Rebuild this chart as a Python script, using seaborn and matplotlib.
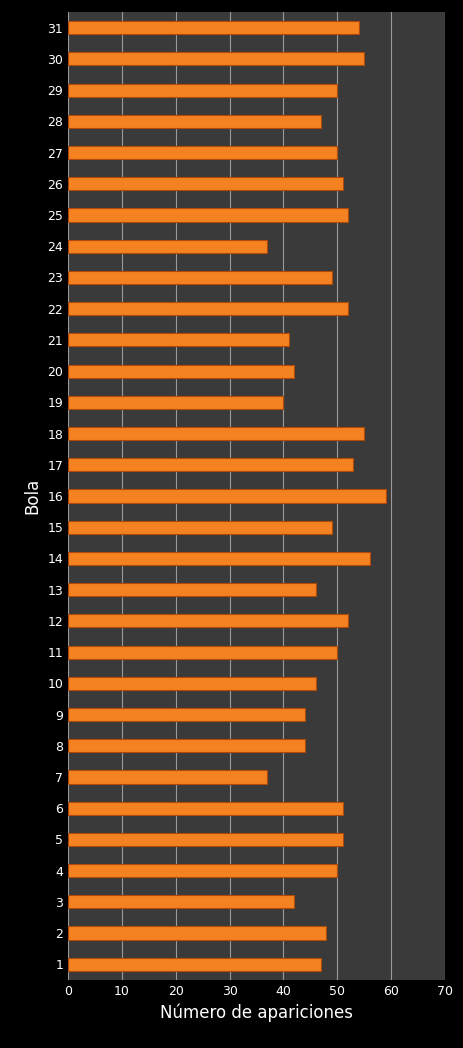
import matplotlib
matplotlib.use("Agg")
import matplotlib.pyplot as plt
import seaborn as sns
import pandas as pd

bolas = [str(i) for i in range(1, 32)]
apariciones = [47, 48, 42, 50, 51, 51, 37, 44, 44, 46, 50, 52, 46, 56, 49, 59,
               53, 55, 40, 42, 41, 52, 49, 37, 52, 51, 50, 47, 50, 55, 54]
xticks = [0, 10, 20, 30, 40, 50, 60, 70]

df = pd.DataFrame({"Bola": bolas, "Número de apariciones": apariciones})

sns.set_style("dark")
plt.rcParams['font.family'] = ['DejaVu Sans']
fig = plt.figure(figsize=(4.63, 10.48), dpi=100, facecolor="black")
ax = fig.add_axes([0.147, 0.065, 0.814, 0.9235])
ax.set_facecolor("#3a3a3a")

sns.barplot(data=df, y="Bola", x="Número de apariciones", order=bolas[::-1],
            orient="h", color="#f58220", saturation=1, width=0.42,
            edgecolor="#b04a08", linewidth=0.8, ax=ax, zorder=3)

ax.set_xlim(0, 70)
ax.set_xticks(xticks)
ax.xaxis.grid(True, color="#9a9a9a", linewidth=0.8, zorder=0)
ax.yaxis.grid(False)
ax.set_axisbelow(True)
ax.tick_params(colors="white", labelsize=9, length=0)
for s in ax.spines.values():
    s.set_visible(False)
ax.set_xlabel("Número de apariciones", color="white", fontsize=12)
ax.set_ylabel("Bola", color="white", fontsize=12)
fig.savefig("out.png", dpi=100, facecolor="black")
